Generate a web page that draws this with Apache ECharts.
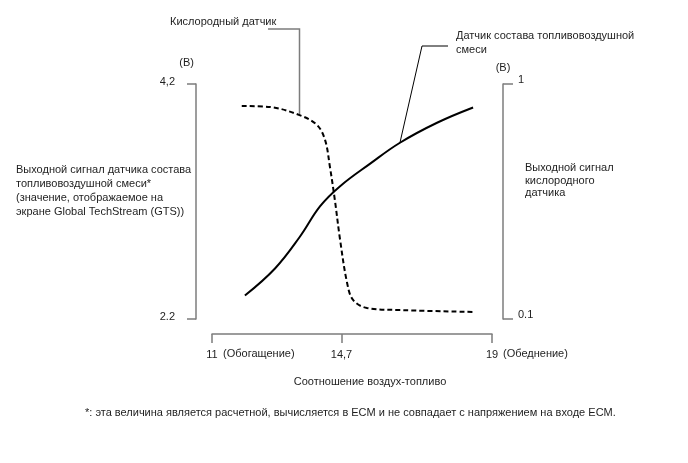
<!DOCTYPE html>
<html>
<head>
<meta charset="utf-8">
<script src="https://cdn.jsdelivr.net/npm/echarts@6/dist/echarts.min.js"></script>
<style>
html,body{margin:0;padding:0;background:#fff;}
#chart{width:688px;height:463px;}
</style>
</head>
<body>
<div id="chart"></div>
<script>
// ---- data ----
const airFuelX = [11.94, 12.8, 13.51, 14.09, 14.66, 15.51, 16.37, 17.43, 18.46];
const airFuelV = [2.40, 2.63, 2.90, 3.16, 3.33, 3.52, 3.70, 3.87, 4.00];
const o2X = [11.85, 12.65, 13.5, 14.0, 14.23, 14.37, 14.51, 14.66, 14.86, 15.03, 15.43, 16.45, 18.45];
const o2V = [0.916, 0.912, 0.881, 0.843, 0.786, 0.682, 0.556, 0.403, 0.238, 0.173, 0.142, 0.134, 0.127];

const xTickValues = [11, 14.7, 19];
const xTickLabels = ['11', '14,7', '19'];
const xSideValues = [11, 19];
const xSideLabels = ['(Обогащение)', '(Обеднение)'];
const leftTickValues = [2.2, 4.2];
const leftTickLabels = ['2.2', '4,2'];
const rightTickValues = [0.1, 1];
const rightTickLabels = ['0.1', '1'];

// annotation anchors (data points on the curves)
const o2Anchor = [13.5, 0.881];
const afAnchor = [16.37, 3.70];

const FONT = "'Liberation Sans', Arial, sans-serif";
const TXT = '#1e1e1e';
const AX = '#7c7c7c';

function lookup(vals, labels) {
  return function (v) {
    const i = vals.findIndex(t => Math.abs(t - v) < 1e-6);
    return i >= 0 ? labels[i] : '';
  };
}
function zip(a, b) { return a.map((x, i) => [x, b[i]]); }

const chart = echarts.init(document.getElementById('chart'), null, {renderer: 'canvas'});

const baseLabel = {fontFamily: FONT, fontSize: 11, color: TXT};

const option = {
  backgroundColor: '#fff',
  animation: false,
  grid: {left: 212, right: 196, top: 84, bottom: 144},
  xAxis: [
    {
      type: 'value', min: 11, max: 19, position: 'bottom', offset: 15,
      axisLine: {show: true, lineStyle: {color: AX, width: 1.5}},
      axisTick: {show: true, length: 9, customValues: xTickValues, lineStyle: {color: AX, width: 1.5}},
      axisLabel: Object.assign({customValues: xTickValues, formatter: lookup(xTickValues, xTickLabels), margin: 15}, baseLabel),
      splitLine: {show: false}
    },
    {
      type: 'value', min: 11, max: 19, position: 'bottom', offset: 15,
      axisLine: {show: false}, axisTick: {show: false},
      axisLabel: Object.assign({customValues: xSideValues, formatter: lookup(xSideValues, xSideLabels), margin: 14, align: 'left', padding: [0, 0, 0, 11]}, baseLabel),
      splitLine: {show: false}
    }
  ],
  yAxis: [
    {
      type: 'value', min: 2.2, max: 4.2, position: 'left', offset: 16,
      name: '(В)', nameLocation: 'end', nameGap: 16,
      nameTextStyle: {fontFamily: FONT, fontSize: 11, color: TXT, align: 'right', padding: [0, 2, 0, 0]},
      axisLine: {show: true, lineStyle: {color: AX, width: 1.5}},
      axisTick: {show: true, length: 9, customValues: leftTickValues, lineStyle: {color: AX, width: 1.5}},
      axisLabel: Object.assign({customValues: leftTickValues, formatter: lookup(leftTickValues, leftTickLabels), margin: 21, verticalAlign: 'bottom', lineHeight: 4}, baseLabel),
      splitLine: {show: false}
    },
    {
      type: 'value', min: 0.1, max: 1, position: 'right', offset: 11,
      name: '(В)', nameLocation: 'end', nameGap: 11,
      nameTextStyle: {fontFamily: FONT, fontSize: 11, color: TXT, align: 'center'},
      axisLine: {show: true, lineStyle: {color: AX, width: 1.5}},
      axisTick: {show: true, length: 10, customValues: rightTickValues, lineStyle: {color: AX, width: 1.5}},
      axisLabel: Object.assign({customValues: rightTickValues, formatter: lookup(rightTickValues, rightTickLabels), margin: 15, verticalAlign: 'bottom', lineHeight: 8}, baseLabel),
      splitLine: {show: false}
    }
  ],
  series: [
    {
      name: 'Датчик состава топливовоздушной смеси', type: 'line',
      xAxisIndex: 0, yAxisIndex: 0,
      data: zip(airFuelX, airFuelV), smooth: 0.4, symbol: 'none',
      lineStyle: {color: '#000', width: 2}
    },
    {
      name: 'Кислородный датчик', type: 'line',
      xAxisIndex: 0, yAxisIndex: 1,
      data: zip(o2X, o2V), smooth: 0.35, symbol: 'none',
      lineStyle: {color: '#000', width: 2, type: [5, 3]}
    }
  ]
};
chart.setOption(option);

const o2P = chart.convertToPixel({xAxisIndex: 0, yAxisIndex: 1}, o2Anchor);
const afP = chart.convertToPixel({xAxisIndex: 0, yAxisIndex: 0}, afAnchor);

function txt(x, y, s, extra) {
  return {
    type: 'text', x: x, y: y, silent: true,
    style: Object.assign({text: s, font: '11px ' + FONT, fill: TXT, textVerticalAlign: 'middle', verticalAlign: 'middle'}, extra || {})
  };
}

chart.setOption({
  graphic: [
    {type: 'polyline', silent: true, shape: {points: [[268, 29], [o2P[0], 29], [o2P[0], o2P[1]]]}, style: {stroke: AX, lineWidth: 1.5, fill: null}},
    {type: 'polyline', silent: true, shape: {points: [[448, 46], [422, 46], [afP[0], afP[1]]]}, style: {stroke: '#000', lineWidth: 1, fill: null}},
    txt(170, 22, 'Кислородный датчик'),
    txt(456, 36, 'Датчик состава топливовоздушной'),
    txt(456, 50, 'смеси'),
    txt(16, 170, 'Выходной сигнал датчика состава'),
    txt(16, 184, 'топливовоздушной смеси*'),
    txt(16, 198, '(значение, отображаемое на'),
    txt(16, 212, 'экране Global TechStream (GTS))'),
    txt(525, 168, 'Выходной сигнал'),
    txt(525, 180.5, 'кислородного'),
    txt(525, 193, 'датчика'),
    txt(370, 382, 'Соотношение воздух-топливо', {align: 'center', textAlign: 'center'}),
    txt(85, 413, '*: эта величина является расчетной, вычисляется в ECM и не совпадает с напряжением на входе ECM.')
  ]
});
</script>
</body>
</html>
